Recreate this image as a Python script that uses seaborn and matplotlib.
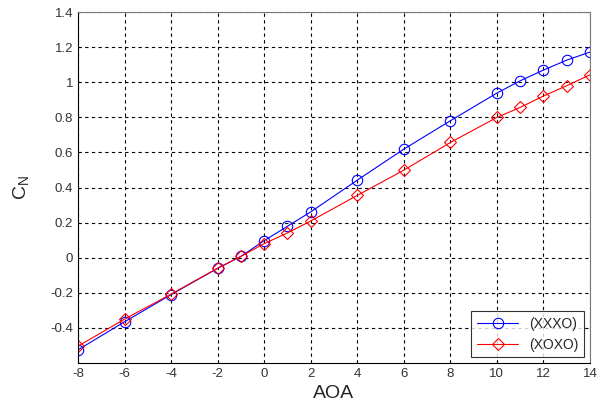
import matplotlib
matplotlib.use("Agg")
import matplotlib.pyplot as plt
import seaborn as sns

aoa = [-8, -6, -4, -2, -1, 0, 1, 2, 4, 6, 8, 10, 11, 12, 13, 14]
cn_xxxo = [-0.526, -0.366, -0.211, -0.061, 0.007, 0.097, 0.179, 0.261,
           0.442, 0.619, 0.781, 0.939, 1.009, 1.070, 1.127, 1.173]
cn_xoxo = [-0.505, -0.351, -0.208, -0.060, 0.007, 0.080, 0.141, 0.209,
           0.355, 0.499, 0.657, 0.800, 0.857, 0.922, 0.981, 1.043]
series_names = ["(XXXO)", "(XOXO)"]
x_ticks = [-8, -6, -4, -2, 0, 2, 4, 6, 8, 10, 12, 14]
y_ticks = [-0.4, -0.2, 0, 0.2, 0.4, 0.6, 0.8, 1, 1.2, 1.4]

sns.set_style("white")
plt.rcParams["font.family"] = ["Liberation Sans", "DejaVu Sans"]
plt.rcParams["mathtext.fontset"] = "custom"
plt.rcParams["mathtext.rm"] = "Liberation Sans"
plt.rcParams["mathtext.it"] = "Liberation Sans"

fig = plt.figure(figsize=(6.02, 4.04), dpi=100)
ax = fig.add_axes([0.1296, 0.102, 0.8504, 0.8676])

for vals, name, col, mk, ms in [(cn_xxxo, series_names[0], "#0000ff", "o", 7.5),
                                (cn_xoxo, series_names[1], "#ff0000", "D", 6)]:
    sns.lineplot(x=aoa, y=vals, color=col, marker=mk, label=name,
                 linewidth=0.8, markersize=ms, markerfacecolor="none",
                 markeredgecolor=col, markeredgewidth=0.8, ax=ax)

ax.set_xlim(-8, 14)
ax.set_ylim(-0.6, 1.4)
ax.set_xticks(x_ticks)
ax.set_yticks(y_ticks)
ax.set_xticklabels([str(t) for t in x_ticks])
ax.set_yticklabels([f"{t:g}" for t in y_ticks])
ax.tick_params(labelsize=9.5, labelcolor="#333333", direction="in", length=3)
ax.grid(True, color="black", linestyle=(0, (3, 3)), linewidth=0.8)

for side in ["left", "bottom"]:
    ax.spines[side].set_color("black")
for side in ["top", "right"]:
    ax.spines[side].set_color("#777777")

ax.set_xlabel("AOA", fontsize=14, labelpad=4)
ax.set_ylabel("C$_N$", fontsize=14, labelpad=14)

leg = ax.legend(loc="lower right", fontsize=10, frameon=True, fancybox=False,
                edgecolor="black", handlelength=3.0, borderaxespad=0.4)
leg.get_frame().set_linewidth(0.8)

fig.savefig("out.png", dpi=100)
